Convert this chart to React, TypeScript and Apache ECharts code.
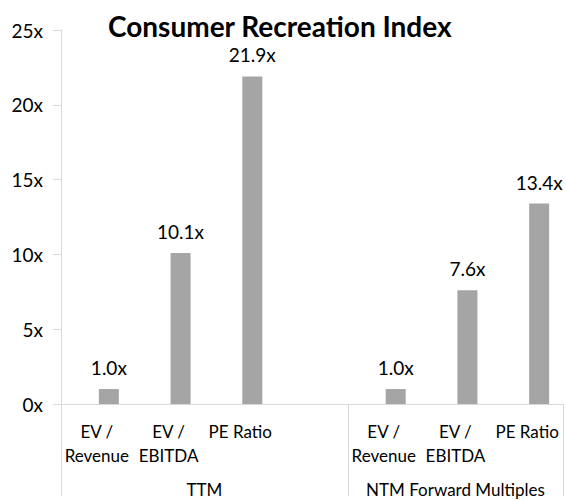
import React, { useEffect, useRef } from "react";
import * as echarts from "echarts";

const title = "Consumer Recreation Index";
const categories = ["EV /\nRevenue", "EV /\nEBITDA", "PE Ratio", "", "EV /\nRevenue", "EV /\nEBITDA", "PE Ratio"];
const multiples: (number | null)[] = [1.0, 10.1, 21.9, null, 1.0, 7.6, 13.4];
const groupNames = ["TTM", "NTM Forward Multiples"];
const groupSizes = [4, 3];
const yMin = 0;
const yMax = 25;
const yStep = 5;

const FONT = "Lato";
const LINE = "#d9d9d9";
const BAR = "#a5a5a5";

export default function App() {
  const ref = useRef<HTMLDivElement>(null);

  useEffect(() => {
    if (!ref.current) return;
    const chart = echarts.init(ref.current, undefined, { renderer: "svg" });

    // group labels placed on a half-slot category axis (boundaryGap false)
    const total = groupSizes.reduce((a, b) => a + b, 0);
    const groupAxis: string[] = new Array(total * 2 + 1).fill("");
    let start = 0;
    groupNames.forEach((g, i) => {
      groupAxis[start * 2 + groupSizes[i]] = g;
      start += groupSizes[i];
    });
    const boundaryIdx: number[] = [];
    let b = 0;
    groupSizes.forEach((s) => {
      boundaryIdx.push(b);
      b += s;
    });

    chart.setOption({
      animation: false,
      backgroundColor: "#ffffff",
      textStyle: { fontFamily: FONT },
      title: {
        text: title,
        left: 108,
        top: 12,
        padding: 0,
        textStyle: { fontFamily: FONT, fontWeight: "bold", fontSize: 28, lineHeight: 28, color: "#000000" },
      },
      grid: { left: 61, right: 3, top: 30, bottom: 92, containLabel: false },
      xAxis: [
        {
          type: "category",
          data: categories,
          boundaryGap: true,
          axisLine: { show: true, lineStyle: { color: LINE, width: 1 } },
          axisTick: {
            show: true,
            interval: (i: number) => boundaryIdx.includes(i),
            length: 92,
            lineStyle: { color: LINE, width: 1 },
          },
          axisLabel: {
            interval: 0,
            margin: 15,
            fontSize: 17,
            lineHeight: 24,
            color: "#000000",
            fontFamily: FONT,
          },
          splitLine: { show: false },
        },
        {
          type: "category",
          data: groupAxis,
          boundaryGap: false,
          position: "bottom",
          axisLine: { show: false },
          axisTick: { show: false },
          axisLabel: {
            interval: 0,
            margin: 73,
            fontSize: 17,
            lineHeight: 24,
            color: "#000000",
            fontFamily: FONT,
            hideOverlap: false,
          },
          splitLine: { show: false },
        },
      ],
      yAxis: {
        type: "value",
        min: yMin,
        max: yMax,
        interval: yStep,
        axisLine: { show: true, lineStyle: { color: LINE, width: 1 } },
        axisTick: { show: true, length: 8, lineStyle: { color: LINE, width: 1 } },
        axisLabel: {
          formatter: (v: number) => `${v}x`,
          margin: 18,
          fontSize: 19,
          color: "#000000",
          fontFamily: FONT,
        },
        splitLine: { show: false },
      },
      series: [
        {
          name: "spacer",
          type: "bar",
          xAxisIndex: 0,
          data: categories.map(() => null),
          barWidth: 20,
          barGap: "20%",
          silent: true,
        },
        {
          name: "Multiple",
          type: "bar",
          xAxisIndex: 0,
          data: multiples,
          barWidth: 20,
          barGap: "20%",
          itemStyle: { color: BAR },
          label: {
            show: true,
            position: "top",
            distance: 12,
            formatter: (p: any) => `${Number(p.value).toFixed(1)}x`,
            fontSize: 19,
            color: "#000000",
            fontFamily: FONT,
          },
        },
      ],
    });

    return () => chart.dispose();
  }, []);

  return (
    <div
      ref={ref}
      style={{ position: "fixed", left: 0, top: 0, width: 566, height: 501, background: "#fff" }}
    />
  );
}
